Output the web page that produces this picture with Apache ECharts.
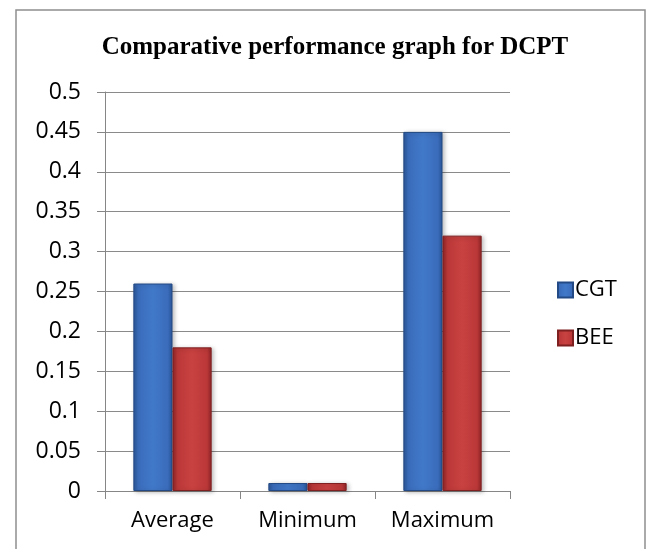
<!DOCTYPE html>
<html>
<head>
<meta charset="utf-8">
<script src="https://cdn.jsdelivr.net/npm/echarts@6/dist/echarts.min.js"></script>
<style>
html,body{margin:0;padding:0;background:#fff;}
#c{width:646px;height:549px;}
</style>
</head>
<body>
<div id="c"></div>
<script>
var titleText = 'Comparative performance graph for DCPT';
var categories = ['Average', 'Minimum', 'Maximum'];
var seriesNames = ['CGT', 'BEE'];
var cgtValues = [0.26, 0.01, 0.45];
var beeValues = [0.18, 0.01, 0.32];
var yTicks = [0, 0.05, 0.1, 0.15, 0.2, 0.25, 0.3, 0.35, 0.4, 0.45, 0.5];

function grad(dark, mid, light) {
  return new echarts.graphic.LinearGradient(0, 0, 1, 0, [
    {offset: 0, color: dark},
    {offset: 0.12, color: mid},
    {offset: 0.5, color: light},
    {offset: 0.88, color: mid},
    {offset: 1, color: dark}
  ]);
}
var blueFill = grad('#2a5596', '#3a6cbb', '#4179c9');
var redFill = grad('#8e2426', '#bb3838', '#c84241');

var chart = echarts.init(document.getElementById('c'), null, {renderer: 'canvas'});
var fontLabel = '"Open Sans", "Noto Sans", sans-serif';
chart.setOption({
  animation: false,
  backgroundColor: '#fff',
  graphic: [{
    type: 'rect',
    shape: {x: 16, y: 10, width: 629, height: 560},
    style: {fill: 'none', stroke: '#8e8e8e', lineWidth: 1.5},
    silent: true
  }],
  title: {
    text: titleText,
    left: 330,
    textAlign: 'center',
    top: 30,
    textStyle: {
      fontFamily: '"Liberation Serif", serif',
      fontWeight: 'bold',
      fontSize: 25,
      color: '#000'
    }
  },
  legend: {
    orient: 'vertical',
    left: 552,
    top: 274,
    icon: 'rect',
    itemWidth: 15,
    itemHeight: 15,
    itemGap: 26,
    data: seriesNames,
    textStyle: {fontFamily: fontLabel, fontSize: 22, color: '#000', lineHeight: 22, padding: [0, 0, 0, -3]}
  },
  grid: {left: 105, top: 92, width: 405, height: 399, containLabel: false},
  xAxis: {
    type: 'category',
    data: categories,
    axisLine: {lineStyle: {color: '#868686', width: 1}},
    axisTick: {show: true, length: 8, lineStyle: {color: '#868686'}},
    axisLabel: {interval: 0, hideOverlap: false, fontFamily: fontLabel, fontSize: 22, color: '#000', margin: 19}
  },
  yAxis: {
    type: 'value',
    min: 0,
    max: 0.5,
    interval: 0.05,
    axisLine: {show: true, lineStyle: {color: '#868686', width: 1}},
    axisTick: {show: true, length: 8, lineStyle: {color: '#868686'}},
    splitLine: {lineStyle: {color: '#8a8a8a', width: 1}},
    axisLabel: {
      fontFamily: fontLabel, fontSize: 23, color: '#000', margin: 24,
      formatter: function (v) {
        var r = Math.round(v * 100) / 100;
        for (var i = 0; i < yTicks.length; i++) { if (Math.abs(yTicks[i] - r) < 1e-9) return String(yTicks[i]); }
        return String(r);
      }
    }
  },
  series: [{
    name: seriesNames[0],
    type: 'bar',
    data: cgtValues,
    barGap: '0%',
    barCategoryGap: '42%',
    itemStyle: {color: blueFill, borderColor: '#234a85', borderWidth: 1, shadowColor: 'rgba(0,0,0,0.25)', shadowBlur: 4, shadowOffsetX: 2, shadowOffsetY: 1}
  }, {
    name: seriesNames[1],
    type: 'bar',
    data: beeValues,
    itemStyle: {color: redFill, borderColor: '#7e1f20', borderWidth: 1, shadowColor: 'rgba(0,0,0,0.25)', shadowBlur: 4, shadowOffsetX: 2, shadowOffsetY: 1}
  }]
});
</script>
</body>
</html>
